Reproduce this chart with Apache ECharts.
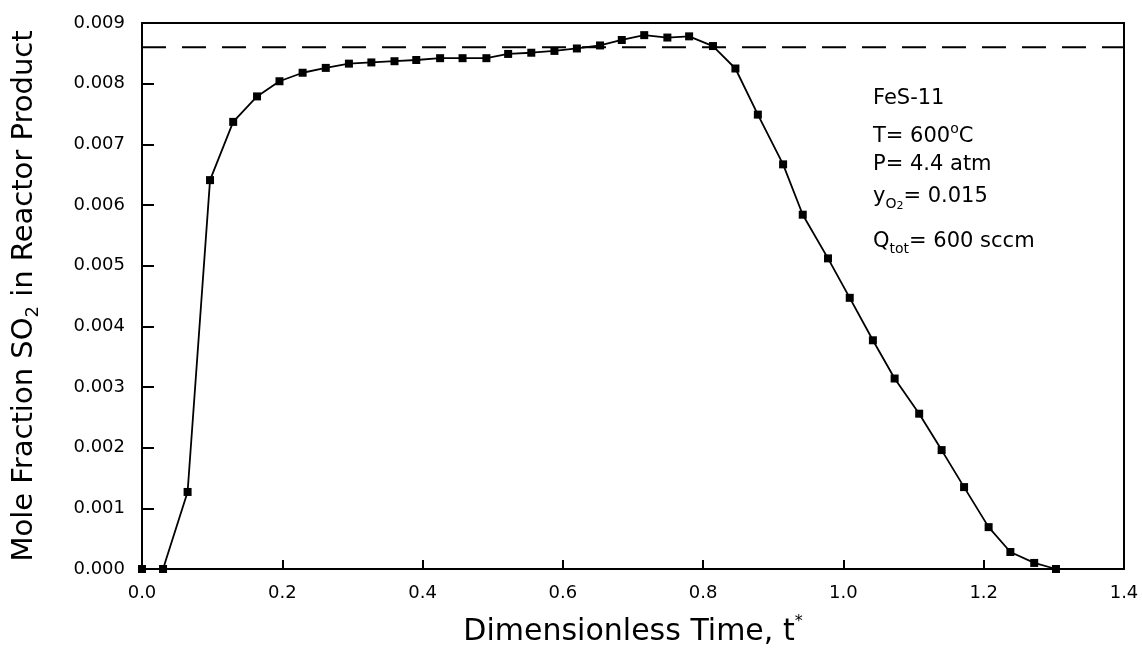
<!DOCTYPE html>
<html>
<head>
<meta charset="utf-8">
<title>Mole Fraction SO2 in Reactor Product</title>
<script src="https://cdn.jsdelivr.net/npm/echarts@6/dist/echarts.min.js"></script>
<style>
  html, body { margin: 0; padding: 0; background: #fff; }
  #chart { width: 1142px; height: 652px; }
</style>
</head>
<body>
<div id="chart"></div>
<script>
// dimensionless time t*
const timeData = [0, 0.030, 0.065, 0.097, 0.130, 0.164, 0.196, 0.229, 0.262, 0.295,
  0.327, 0.360, 0.391, 0.425, 0.457, 0.491, 0.522, 0.555, 0.588, 0.620,
  0.653, 0.684, 0.716, 0.749, 0.780, 0.814, 0.846, 0.878, 0.914, 0.942,
  0.978, 1.009, 1.042, 1.073, 1.108, 1.140, 1.172, 1.207, 1.238, 1.272, 1.303]
// mole fraction SO2 in reactor product
const so2Data = [0, 0, 0.00127, 0.00641, 0.00737, 0.00779, 0.00804, 0.00818, 0.00826, 0.00833,
  0.00835, 0.00837, 0.00839, 0.00842, 0.00842, 0.00842, 0.00849, 0.00851, 0.00854, 0.00858,
  0.00863, 0.00872, 0.00880, 0.00876, 0.00878, 0.00862, 0.00825, 0.00749, 0.00667, 0.00584,
  0.00512, 0.00447, 0.00377, 0.00314, 0.00256, 0.00196, 0.00135, 0.00069, 0.00028, 0.0001, 0]
// dashed reference level
const steadyLevel = 0.0086

const xRange = [0, 1.4, 0.2]
const yRange = [0, 0.009, 0.001]

// run conditions (rich text)
const noteLines = [
  '{a|FeS-11}',
  '{a|T= 600}{sup|o}{a|C}',
  '{a|P= 4.4 atm}',
  '{a|y}{sub|O}{sub2|2}{a|= 0.015}',
  '{a|Q}{sub|tot}{a|= 600 sccm}'
]
const noteTops = [88, 122, 154, 186, 231]

const points = timeData.map((t, i) => [t, so2Data[i]])
const levelLine = [[xRange[0], steadyLevel], [xRange[1], steadyLevel]]

const myChart = echarts.init(document.getElementById('chart'))

const noteRich = {
  a: { fontFamily: 'DejaVu Sans', fontSize: 21, color: '#000', lineHeight: 30 },
  sup: { fontFamily: 'DejaVu Sans', fontSize: 14, color: '#000', verticalAlign: 'top', lineHeight: 30 },
  sub: { fontFamily: 'DejaVu Sans', fontSize: 14, color: '#000', verticalAlign: 'bottom', lineHeight: 22 },
  sub2: { fontFamily: 'DejaVu Sans', fontSize: 11, color: '#000', verticalAlign: 'bottom', lineHeight: 14 }
}

myChart.setOption({
  animation: false,
  backgroundColor: '#fff',
  grid: {
    left: 142,
    right: 18,
    top: 23,
    bottom: 81,
    show: true,
    borderColor: '#000',
    borderWidth: 2
  },
  xAxis: {
    type: 'value',
    min: xRange[0],
    max: xRange[1],
    interval: xRange[2],
    name: '{n|Dimensionless Time, t}{s|*}',
    nameLocation: 'middle',
    nameGap: 45,
    nameTextStyle: {
      rich: {
        n: { fontFamily: 'DejaVu Sans', fontSize: 30, color: '#000', lineHeight: 36 },
        s: { fontFamily: 'DejaVu Sans', fontSize: 16, color: '#000', verticalAlign: 'top', lineHeight: 36 }
      }
    },
    axisLine: { lineStyle: { color: '#000', width: 2 } },
    axisTick: { inside: true, length: 9, lineStyle: { color: '#000', width: 2 } },
    axisLabel: {
      margin: 15,
      color: '#000',
      fontFamily: 'DejaVu Sans',
      fontSize: 18,
      formatter: v => v.toFixed(1)
    },
    splitLine: { show: false }
  },
  yAxis: {
    type: 'value',
    min: yRange[0],
    max: yRange[1],
    interval: yRange[2],
    name: '{n|Mole Fraction SO}{s|2}{n| in Reactor Product}',
    nameLocation: 'middle',
    nameGap: 100,
    nameTextStyle: {
      rich: {
        n: { fontFamily: 'DejaVu Sans', fontSize: 29, color: '#000', lineHeight: 36 },
        s: { fontFamily: 'DejaVu Sans', fontSize: 18, color: '#000', verticalAlign: 'bottom', lineHeight: 24 }
      }
    },
    axisLine: { show: true, lineStyle: { color: '#000', width: 2 } },
    axisTick: { show: true, inside: true, length: 12, lineStyle: { color: '#000', width: 2 } },
    axisLabel: {
      margin: 17,
      color: '#000',
      fontFamily: 'DejaVu Sans',
      fontSize: 18,
      formatter: v => v.toFixed(3)
    },
    splitLine: { show: false }
  },
  graphic: noteLines.map((line, i) => ({
    type: 'text',
    left: 873,
    top: noteTops[i],
    style: { text: line, rich: noteRich }
  })),
  series: [
    {
      name: 'level',
      type: 'line',
      data: levelLine,
      symbol: 'none',
      silent: true,
      lineStyle: { color: '#000', width: 2, type: [24, 16] }
    },
    {
      name: 'SO2',
      type: 'line',
      data: points,
      clip: false,
      symbol: 'rect',
      symbolSize: 8,
      lineStyle: { color: '#000', width: 1.8 },
      itemStyle: { color: '#000' }
    }
  ]
})
</script>
</body>
</html>
